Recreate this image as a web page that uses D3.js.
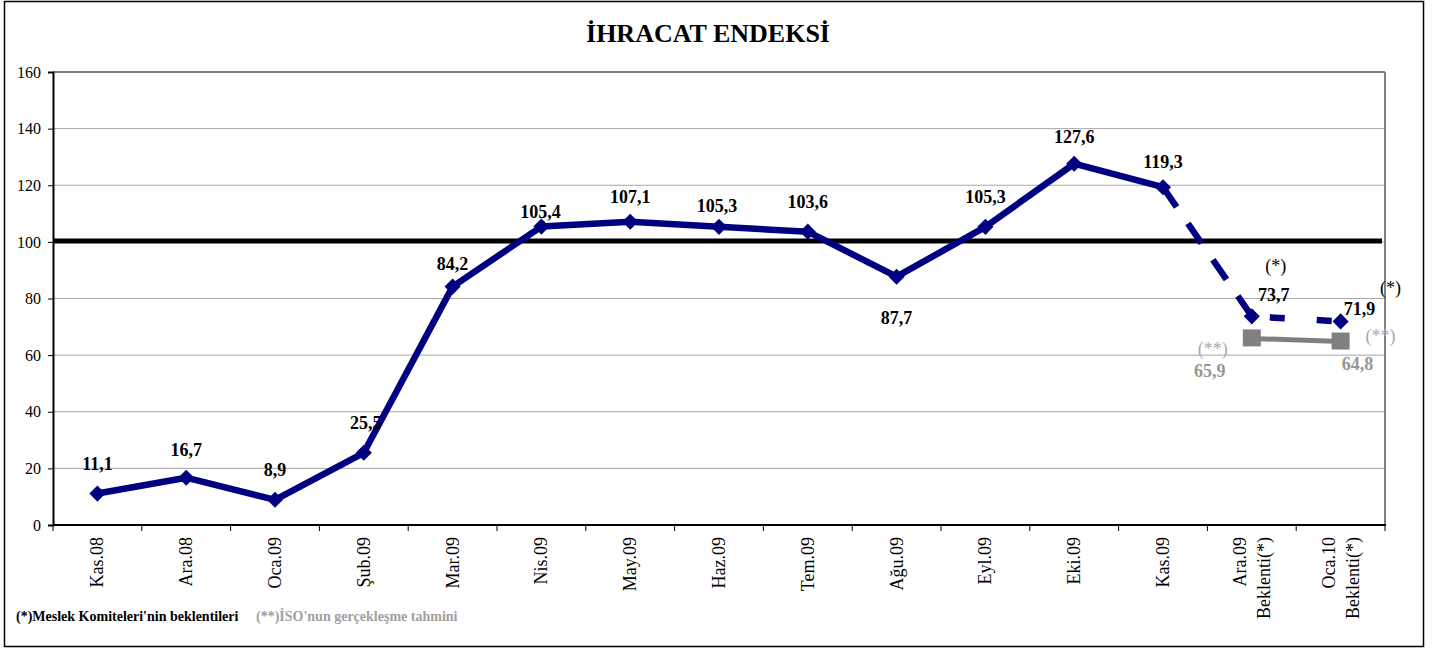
<!DOCTYPE html>
<html><head><meta charset="utf-8">
<script src="https://cdn.jsdelivr.net/npm/d3@7"></script>
<style>body{margin:0;background:#fff}svg{display:block}text{font-family:"Liberation Serif","Times New Roman",serif}</style>
</head><body><svg id="c" width="1438" height="652"></svg>
<script>
const categories = [["Kas.08"],["Ara.08"],["Oca.09"],["Şub.09"],["Mar.09"],["Nis.09"],["May.09"],["Haz.09"],["Tem.09"],["Ağu.09"],["Eyl.09"],["Eki.09"],["Kas.09"],["Ara.09","Beklenti(*)"],["Oca.10","Beklenti(*)"]];
const actualValues = [11.1,16.7,8.9,25.5,84.2,105.4,107.1,105.3,103.6,87.7,105.3,127.6,119.3,null,null];
const expectValues = [null,null,null,null,null,null,null,null,null,null,null,null,119.3,73.7,71.9];
const isoValues = [null,null,null,null,null,null,null,null,null,null,null,null,null,65.9,64.8];
const yTicks = [0,20,40,60,80,100,120,140,160];
const refLine = 100;
const title = "İHRACAT ENDEKSİ";
const legend1 = "(*)Meslek Komiteleri'nin beklentileri";
const legend2 = "(**)İSO'nun gerçekleşme tahmini";

const svg = d3.select("#c");
const L=53, R=1385, T=72, B=525;
const keys = categories.map(c=>c.join(" "));
const x = d3.scaleBand().domain(keys).range([L,R]);
const y = d3.scaleLinear().domain([0,160]).range([B,T]);
const cx = i => x(keys[i]) + x.bandwidth()/2;
const fmt = v => String(v.toFixed(1)).replace(".", ",");

svg.append("rect").attr("x",4.5).attr("y",1.5).attr("width",1419).attr("height",645).attr("fill","none").attr("stroke","#000").attr("stroke-width",1.5);
svg.append("text").attr("x",708).attr("y",42).attr("text-anchor","middle").attr("font-size",26).attr("font-weight","bold").text(title);

// gridlines
svg.append("g").selectAll("line").data(yTicks.filter(d=>d>0&&d<160)).join("line")
  .attr("x1",L).attr("x2",R).attr("y1",d=>y(d)).attr("y2",d=>y(d)).attr("stroke","#a6a6a6").attr("stroke-width",1);
svg.append("line").attr("x1",L).attr("x2",R).attr("y1",T).attr("y2",T).attr("stroke","#808080").attr("stroke-width",2);
svg.append("line").attr("x1",R).attr("x2",R).attr("y1",T).attr("y2",B).attr("stroke","#808080").attr("stroke-width",2);

// y axis
const ya = svg.append("g").attr("transform",`translate(${L},0)`).call(d3.axisLeft(y).tickValues(yTicks).tickSize(5).tickPadding(7));
ya.select(".domain").attr("stroke","#000").attr("stroke-width",2);
ya.selectAll(".tick line").attr("stroke","#000");
ya.selectAll("text").attr("font-size",16).attr("fill","#000").style("font-family","Liberation Serif");

// x axis
const xa = svg.append("g").attr("transform",`translate(0,${B})`);
xa.append("line").attr("x1",L).attr("x2",R+1).attr("stroke","#000").attr("stroke-width",2);
const bounds = keys.map(k=>x(k)).concat([R]);
xa.selectAll(".tk").data(bounds).join("line").attr("class","tk").attr("x1",d=>d).attr("x2",d=>d).attr("y1",0).attr("y2",6).attr("stroke","#000");
categories.forEach((c,i)=>{
  const n=c.length;
  const t = xa.append("text").attr("transform",`translate(${cx(i)},12) rotate(-90)`).attr("text-anchor","end").attr("font-size",18).attr("fill","#000");
  c.forEach((s,j)=>{
    t.append("tspan").attr("x",0).attr("y",(j-(n-1)/2)*24 + 6).text(s);
  });
});

// reference line
svg.append("line").attr("x1",L).attr("x2",R-3).attr("y1",y(refLine)-1).attr("y2",y(refLine)-1).attr("stroke","#000").attr("stroke-width",5);

const navy="#000080", gray="#808080";
const line = d3.line().defined(d=>d.v!=null).x(d=>cx(d.i)).y(d=>y(d.v));
const toPts = arr => arr.map((v,i)=>({i,v}));
svg.append("path").attr("d",line(toPts(actualValues))).attr("fill","none").attr("stroke",navy).attr("stroke-width",6.5).attr("stroke-linejoin","round");
// dashed expectation segments, each drawn separately
const ePts = toPts(expectValues).filter(d=>d.v!=null);
const dashStyles = [["24,20",0],["15,32",-18]];
for(let k=0;k<ePts.length-1;k++){
  svg.append("path").attr("d",line([ePts[k],ePts[k+1]])).attr("fill","none").attr("stroke",navy).attr("stroke-width",6.5)
    .attr("stroke-dasharray",dashStyles[k%2][0]).attr("stroke-dashoffset",dashStyles[k%2][1]);
}
svg.append("path").attr("d",line(toPts(isoValues))).attr("fill","none").attr("stroke",gray).attr("stroke-width",5);

const allNavy = actualValues.map((v,i)=> v!=null ? {i,v} : (expectValues[i]!=null?{i,v:expectValues[i]}:null)).filter(Boolean);
svg.append("g").selectAll("path").data(allNavy).join("path")
  .attr("d",d3.symbol().type(d3.symbolSquare).size(130)).attr("transform",d=>`translate(${cx(d.i)},${y(d.v)}) rotate(45)`).attr("fill",navy);
svg.append("g").selectAll("rect").data(toPts(isoValues).filter(d=>d.v!=null)).join("rect")
  .attr("x",d=>cx(d.i)-9).attr("y",d=>y(d.v)-9).attr("width",18).attr("height",17).attr("fill",gray);

// data labels (offsets relative to each point)
const offs = [[0,-24],[0,-22],[0,-24],[2,-24],[0,-17],[-1,-9],[0,-19],[-2,-15],[0,-24],[0,47],[0,-24],[0,-21],[0,-19],[22,-15],[19,-6]];
allNavy.forEach(d=>{
  const o=offs[d.i];
  svg.append("text").attr("x",cx(d.i)+o[0]).attr("y",y(d.v)+o[1]).attr("text-anchor","middle").attr("font-size",18).attr("font-weight","bold").attr("fill","#000").text(fmt(d.v));
});
const star = [[13,24,-44],[14,50,-27]];
star.forEach(s=>{
  const v = expectValues[s[0]];
  svg.append("text").attr("x",cx(s[0])+s[1]).attr("y",y(v)+s[2]).attr("text-anchor","middle").attr("font-size",18).attr("fill","#000").text("(*)");
});
// [index, numDx, numDy, starDx, starDy]
const isoLab = [[13,-42,39,-39,17],[14,17,28,40,0]];
isoLab.forEach(s=>{
  const v = isoValues[s[0]];
  svg.append("text").attr("x",cx(s[0])+s[1]).attr("y",y(v)+s[2]).attr("text-anchor","middle").attr("font-size",18).attr("font-weight","bold").attr("fill","#969696").text(fmt(v));
  svg.append("text").attr("x",cx(s[0])+s[3]).attr("y",y(v)+s[4]).attr("text-anchor","middle").attr("font-size",18).attr("fill","#aaaaaa").text("(**)");
});

// legend
svg.append("text").attr("x",16).attr("y",621).attr("font-size",14).attr("font-weight","bold").attr("fill","#000").text(legend1);
svg.append("text").attr("x",256).attr("y",621).attr("font-size",14).attr("font-weight","bold").attr("fill","#a0a0a0").text(legend2);
</script></body></html>
